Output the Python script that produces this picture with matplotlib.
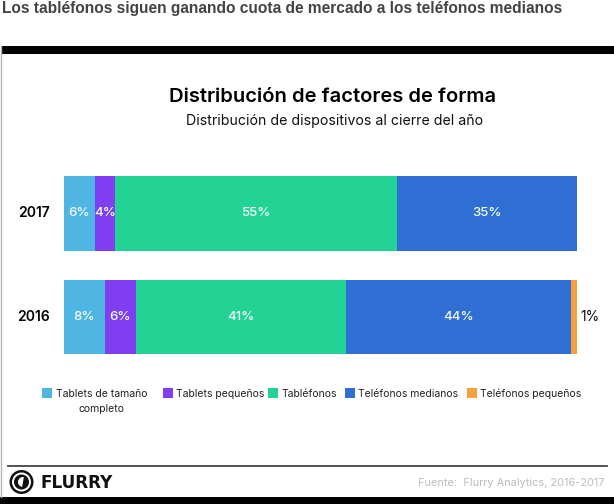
import matplotlib
matplotlib.use('Agg')
import matplotlib.pyplot as plt
from matplotlib.patches import Rectangle, Circle, Wedge

W, H = 614, 504

years = ['2016', '2017']
segments = ['Tablets de tamaño\ncompleto', 'Tablets pequeños', 'Tabléfonos', 'Teléfonos medianos', 'Teléfonos pequeños']
tablets_full = [8, 6]
tablets_small = [6, 4]
phablets = [41, 55]
phones_medium = [44, 35]
phones_small = [1, 0]
series = [tablets_full, tablets_small, phablets, phones_medium, phones_small]
colors = ['#4fb6e3', '#7f3ff0', '#23d396', '#2f6fd3', '#f7a040']

legend_x = [42, 163, 268, 345, 467]

fig = plt.figure(figsize=(W / 100, H / 100), dpi=100, facecolor='white')

# overlay in pixel coordinates for the frame and the texts
bg = fig.add_axes([0, 0, 1, 1])
bg.set_xlim(0, W)
bg.set_ylim(H, 0)
bg.axis('off')

bg.add_patch(Rectangle((2, 46), W - 2, 8, color='black', lw=0))
bg.add_patch(Rectangle((0, 497), W, 7, color='black', lw=0))
bg.plot([1.2, 1.2], [46, 497], color='#b5b5b5', lw=1)
bg.plot([8, 607], [466, 466], color='#444444', lw=1.3)

bg.text(2, 8.5, 'Los tabléfonos siguen ganando cuota de mercado a los teléfonos medianos',
        family='Liberation Sans', weight='bold', fontsize=11.2, color='#444444', va='center')
bg.text(333, 96.5, 'Distribución de factores de forma', family='Inter', weight='semibold',
        fontsize=14.5, color='black', ha='center', va='center')
bg.text(335, 120.5, 'Distribución de dispositivos al cierre del año', family='Inter',
        fontsize=10.15, color='#111111', ha='center', va='center')

# bars
ax = fig.add_axes([64 / W, 1 - 370 / H, 512.5 / W, 210 / H])
ax.set_xlim(0, 100)
ax.set_ylim(-0.51, 1.514)
ax.axis('off')
ax.patch.set_alpha(0)

left = [0, 0]
for vals, col in zip(series, colors):
    ax.barh(range(len(years)), vals, left=left, height=0.72, color=col, lw=0)
    for i, v in enumerate(vals):
        if v == 0:
            continue
        if v == 1:
            ax.annotate(f'{v}%', (left[i] + v, i), xytext=(2.5, 0), textcoords='offset points',
                        family='Inter', fontsize=10, color='#111111', va='center')
        else:
            ax.text(left[i] + v / 2, i, f'{v}%', family='Inter', weight='medium',
                    fontsize=9.6, color='#f2fbfa', ha='center', va='center')
    left = [a + b for a, b in zip(left, vals)]

for i, year in enumerate(years):
    ax.annotate(year, (0, i), xytext=(-10, 0), textcoords='offset points', family='Inter',
                weight='semibold', fontsize=10, color='black', ha='right', va='center')

# legend
for name, col, x in zip(segments, colors, legend_x):
    bg.add_patch(Rectangle((x, 388), 10, 10, color=col, lw=0))
    first, *rest = name.split('\n')
    bg.text(x + 13.5, 394, first, family='Inter', fontsize=7.5, color='#222222', va='center')
    if rest:
        bg.text(101.5, 409.5, rest[0], family='Inter', fontsize=7.5, color='#222222',
                ha='center', va='center')

# footer
bg.add_patch(Circle((21.5, 482), 12, color='#111111', lw=0))
bg.add_patch(Circle((21.5, 482), 9.5, color='white', lw=0))
bg.add_patch(Circle((21.5, 482), 7.5, color='#111111', lw=0))
bg.add_patch(Wedge((23, 482), 5, 100, 280, color='white', lw=0))
bg.text(40, 482.5, 'FLURRY', family='DejaVu Sans', weight='bold', fontsize=12.2,
        color='#111111', va='center')
bg.text(605, 483, 'Fuente:  Flurry Analytics, 2016-2017', family='Inter', fontsize=7.9,
        color='#bdbdbd', ha='right', va='center')

fig.savefig('out.png', dpi=100)
